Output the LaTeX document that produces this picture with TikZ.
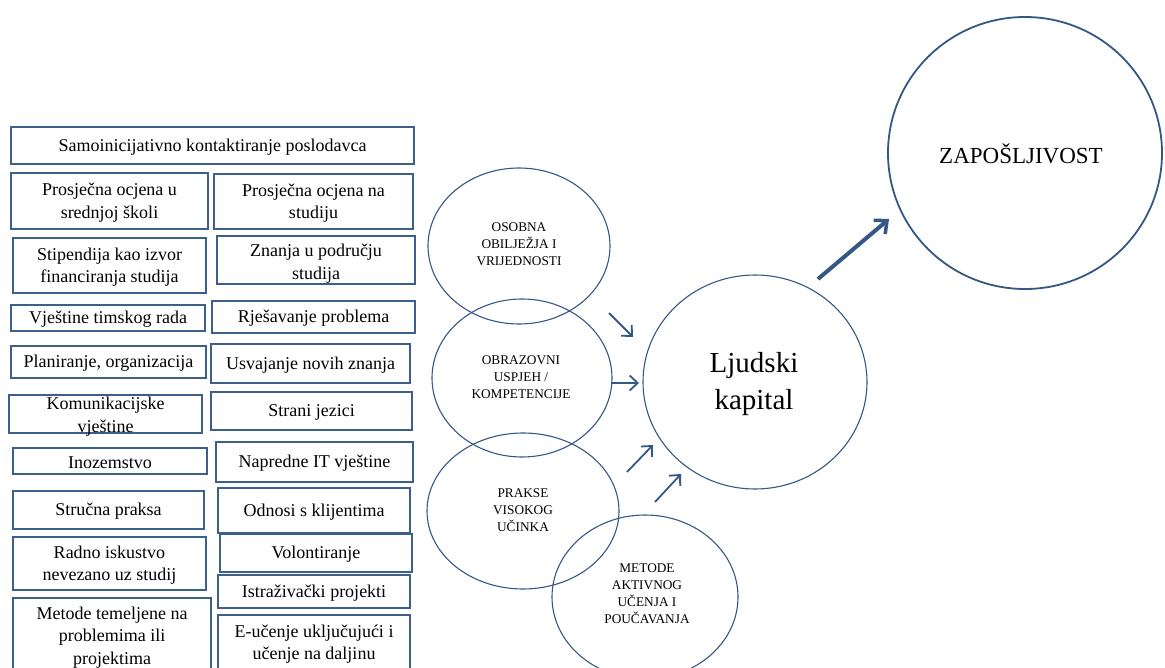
\documentclass[tikz,border=0pt]{standalone}
\usepackage{fontspec}
\setmainfont{Liberation Serif}
\usetikzlibrary{arrows.meta,fit,shapes.geometric}
\definecolor{lineblue}{RGB}{52,88,134}
\definecolor{boxblue}{RGB}{60,95,140}
\tikzset{
  boxframe/.style={draw=boxblue, line width=1.2pt, inner sep=0pt, fill=white},
  boxtext/.style={align=center, font=\fontsize{18}{22.5}\selectfont, inner sep=0pt},
  ovaltext/.style={align=center, font=\fontsize{13.3}{17}\selectfont, inner sep=0pt},
  oval/.style={draw=lineblue, line width=1.1pt, ellipse, inner sep=0pt},
  smallarrow/.style={draw=lineblue, line width=1.8pt, -{Straight Barb[length=8pt,width=15pt,line width=1.8pt]}},
  bigarrow/.style={draw=lineblue, line width=4pt, -{Straight Barb[length=10pt,width=18pt,line width=3.5pt]}}
}
\newcommand{\mybox}[7]{%
  \node[boxframe, fit={(#2,#3) (#4,#5)}] (#1) {};
  \node[boxtext] (#1t) at ([yshift=#6-1.5pt]#1.center) {#7};
}
\begin{document}
\begin{tikzpicture}[x=1pt,y=-1pt]
\useasboundingbox (0,0) rectangle (1165,668);
\clip (0,0) rectangle (1165,668);
\fill[white] (0,0) rectangle (1165,668);

% ellipses
\node[oval, minimum width=182pt, minimum height=156pt] (e1) at (519,246) {};
\node[oval, minimum width=180pt, minimum height=158pt] (e2) at (522,378) {};
\node[oval, minimum width=192pt, minimum height=156pt] (e3) at (523,511) {};
\node[oval, minimum width=186pt, minimum height=164pt] (e4) at (645,597) {};

\node[ovaltext] (osobna) at (519,244) {OSOBNA\\OBILJEŽJA I\\VRIJEDNOSTI};
\node[ovaltext] (obraz) at (521,377) {OBRAZOVNI\\USPJEH /\\KOMPETENCIJE};
\node[ovaltext] (prakse) at (523,510) {PRAKSE\\VISOKOG\\UČINKA};
\node[ovaltext] (metode) at (647,594) {METODE\\AKTIVNOG\\UČENJA I\\POUČAVANJA};

% central circle
\node[draw=lineblue, line width=1.1pt, ellipse, minimum width=224pt, minimum height=214pt, inner sep=0pt] (lk) at (755,382) {};
\node[align=center, font=\fontsize{29}{37}\selectfont, inner sep=0pt] (lkt) at (754,384) {Ljudski\\kapital};

% right circle
\node[draw=lineblue, line width=1.8pt, ellipse, minimum width=274pt, minimum height=272pt, inner sep=0pt] (zap) at (1025,153) {};
\node[font=\fontsize{23}{27}\selectfont, inner sep=0pt] (zapt) at (1021,154) {ZAPOŠLJIVOST};

% arrow anchors
\coordinate (a1s) at (609,313); \coordinate (a1e) at (633,337);
\coordinate (a2s) at (611,383); \coordinate (a2e) at (639,383);
\coordinate (a3s) at (627,472); \coordinate (a3e) at (653,445);
\coordinate (a4s) at (655,502); \coordinate (a4e) at (681,474);
\coordinate (b1s) at (818,279); \coordinate (b1e) at (889,219);
\draw[smallarrow] (a1s) -- (a1e);
\draw[smallarrow] (a2s) -- (a2e);
\draw[smallarrow] (a3s) -- (a3e);
\draw[smallarrow] (a4s) -- (a4e);
\draw[bigarrow] (b1s) -- (b1e);

% boxes
\mybox{b1}{11}{127}{414}{164}{0pt}{Samoinicijativno kontaktiranje poslodavca}
\mybox{b2}{11}{173}{208}{229}{0pt}{Prosječna ocjena u\\srednjoj školi}
\mybox{b3}{214}{174}{413}{229}{0pt}{Prosječna ocjena na\\studiju}
\mybox{b4}{13}{238}{206}{293}{0pt}{Stipendija kao izvor\\financiranja studija}
\mybox{b5}{217}{236}{415}{284}{-2pt}{Znanja u području\\studija}
\mybox{b6}{11}{305}{205}{331}{0pt}{Vještine timskog rada}
\mybox{b7}{212}{301}{415}{333}{0pt}{Rješavanje problema}
\mybox{b8}{11}{346}{206}{378}{0pt}{Planiranje, organizacija}
\mybox{b9}{211}{344}{410}{383}{0pt}{Usvajanje novih znanja}
\mybox{b10}{9}{395}{202}{433}{-1pt}{Komunikacijske\\vještine}
\mybox{b11}{211}{392}{412}{430}{0pt}{Strani jezici}
\mybox{b12}{13}{448}{207}{474}{0pt}{Inozemstvo}
\mybox{b13}{216}{442}{413}{482}{0pt}{Napredne IT vještine}
\mybox{b14}{13}{491}{204}{529}{0pt}{Stručna praksa}
\mybox{b15}{218}{488}{410}{533}{0pt}{Odnosi s klijentima}
\mybox{b16}{13}{537}{206}{590}{0pt}{Radno iskustvo\\nevezano uz studij}
\mybox{b17}{220}{534}{412}{572}{0pt}{Volontiranje}
\mybox{b18}{218}{575}{410}{608}{0pt}{Istraživački projekti}
\mybox{b19}{13}{598}{211}{678}{2pt}{Metode temeljene na\\problemima ili\\projektima}
\mybox{b20}{218}{615}{410}{672}{1pt}{E-učenje uključujući i\\učenje na daljinu}
\end{tikzpicture}
\end{document}
